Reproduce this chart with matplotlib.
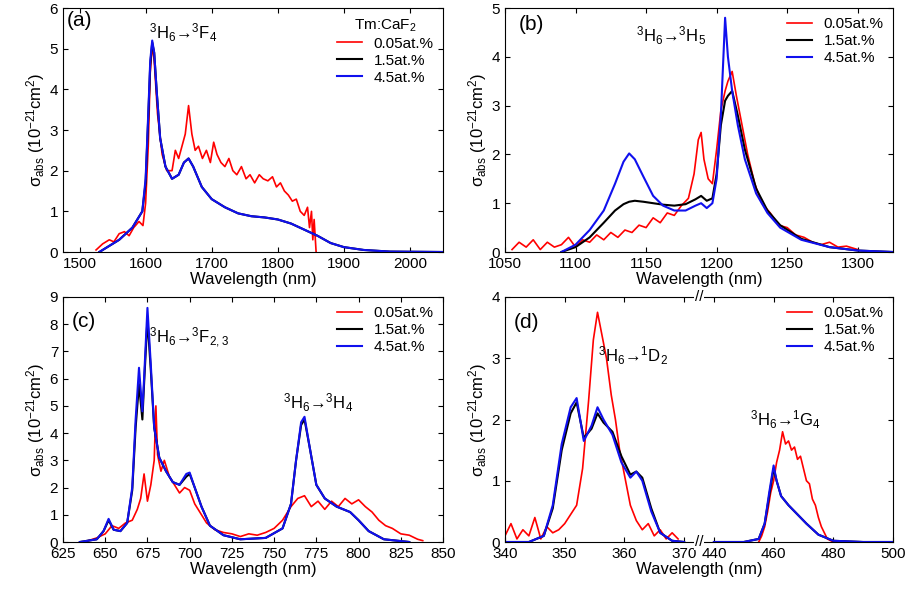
import matplotlib
matplotlib.use('Agg')
import matplotlib.pyplot as plt
import numpy as np

plt.rcParams['font.family'] = ['Liberation Sans', 'DejaVu Sans']
plt.rcParams['mathtext.default'] = 'regular'
plt.rcParams['font.size'] = 12

# ---- panel (a) ----
a_x = [1530, 1560, 1580, 1595, 1600, 1604, 1607, 1610, 1613, 1617, 1622, 1630, 1640, 1650, 1658, 1665, 1672, 1685, 1700, 1720, 1740, 1760, 1780, 1800, 1820, 1840, 1860, 1880, 1900, 1930, 1970, 2050]
a_blue = [0.0, 0.3, 0.6, 1.0, 1.8, 3.4, 4.7, 5.2, 4.9, 3.9, 2.8, 2.1, 1.8, 1.9, 2.2, 2.3, 2.1, 1.6, 1.3, 1.1, 0.95, 0.88, 0.85, 0.8, 0.7, 0.55, 0.4, 0.22, 0.12, 0.05, 0.01, 0.0]
a_black = [0.0, 0.3, 0.6, 1.0, 1.7, 3.3, 4.6, 5.15, 4.9, 3.9, 2.8, 2.1, 1.8, 1.9, 2.2, 2.3, 2.1, 1.6, 1.3, 1.1, 0.95, 0.88, 0.85, 0.8, 0.7, 0.55, 0.4, 0.22, 0.12, 0.05, 0.01, 0.0]
a_rx = [1525, 1535, 1545, 1552, 1560, 1568, 1575, 1582, 1590, 1596, 1600, 1604, 1607, 1610, 1613, 1618, 1625, 1632, 1640, 1645, 1650, 1655, 1660, 1665, 1670, 1675, 1680, 1686, 1692, 1698, 1703, 1708, 1714, 1720, 1726, 1732, 1738, 1745, 1752, 1758, 1765, 1772, 1778, 1785, 1792, 1798, 1804, 1810, 1816, 1822, 1828, 1834, 1840, 1845, 1848, 1851, 1853, 1855, 1858]
a_red = [0.05, 0.2, 0.3, 0.25, 0.45, 0.5, 0.4, 0.6, 0.75, 0.65, 1.2, 2.6, 4.4, 5.1, 4.7, 3.4, 2.4, 2.0, 2.0, 2.5, 2.3, 2.6, 2.9, 3.6, 2.9, 2.5, 2.6, 2.3, 2.5, 2.2, 2.7, 2.4, 2.2, 2.1, 2.3, 2.0, 1.9, 2.1, 1.8, 1.9, 1.7, 1.9, 1.8, 1.75, 1.85, 1.6, 1.7, 1.5, 1.4, 1.25, 1.3, 1.0, 0.9, 1.1, 0.6, 1.0, 0.3, 0.8, 0.0]

# ---- panel (b) ----
b_x = [1090, 1100, 1110, 1120, 1128, 1134, 1138, 1142, 1148, 1155, 1162, 1170, 1178, 1185, 1189, 1193, 1197, 1200, 1203, 1206, 1208, 1211, 1215, 1220, 1228, 1236, 1245, 1260, 1280, 1300, 1325]
b_blue = [0.0, 0.15, 0.45, 0.85, 1.4, 1.85, 2.02, 1.9, 1.55, 1.15, 0.95, 0.85, 0.85, 0.95, 1.0, 0.9, 1.0, 1.5, 2.8, 4.8, 4.0, 3.3, 2.6, 1.9, 1.2, 0.8, 0.5, 0.25, 0.1, 0.03, 0.0]
b_black = [0.0, 0.1, 0.3, 0.6, 0.85, 0.98, 1.03, 1.05, 1.03, 1.0, 0.97, 0.95, 0.98, 1.08, 1.15, 1.05, 1.1, 1.6, 2.6, 3.1, 3.2, 3.3, 2.8, 2.1, 1.3, 0.85, 0.55, 0.27, 0.1, 0.03, 0.0]
b_rx = [1055, 1060, 1065, 1070, 1075, 1080, 1085, 1090, 1095, 1100, 1105, 1110, 1115, 1120, 1125, 1130, 1135, 1140, 1145, 1150, 1155, 1160, 1165, 1170, 1175, 1180, 1184, 1187, 1189, 1191, 1194, 1197, 1200, 1203, 1206, 1208, 1211, 1214, 1218, 1222, 1227, 1232, 1238, 1244, 1250, 1256, 1262, 1268, 1274, 1280, 1286, 1292, 1300]
b_red = [0.05, 0.2, 0.1, 0.25, 0.05, 0.2, 0.1, 0.15, 0.3, 0.1, 0.25, 0.2, 0.35, 0.25, 0.4, 0.3, 0.45, 0.4, 0.55, 0.5, 0.7, 0.6, 0.8, 0.75, 0.95, 1.1, 1.6, 2.3, 2.45, 1.9, 1.5, 1.4, 2.1, 2.9, 3.3, 3.5, 3.7, 3.2, 2.6, 2.0, 1.4, 1.0, 0.8, 0.55, 0.5, 0.35, 0.3, 0.2, 0.15, 0.2, 0.1, 0.12, 0.05]

# ---- panel (c) ----
c_x = [635, 645, 649, 652, 655, 659, 663, 666, 668, 670, 672, 673, 675, 677, 679, 682, 686, 690, 694, 698, 700, 703, 707, 712, 720, 730, 745, 755, 760, 763, 766, 768, 771, 775, 780, 787, 795, 800, 806, 815, 830]
c_blue = [0.0, 0.1, 0.4, 0.85, 0.45, 0.4, 0.7, 2.0, 4.5, 6.4, 4.8, 6.0, 8.6, 6.5, 4.2, 3.1, 2.6, 2.2, 2.1, 2.5, 2.55, 2.0, 1.3, 0.6, 0.25, 0.1, 0.15, 0.5, 1.4, 3.0, 4.4, 4.6, 3.5, 2.1, 1.6, 1.3, 1.1, 0.8, 0.4, 0.1, 0.0]
c_black = [0.0, 0.1, 0.4, 0.8, 0.45, 0.4, 0.7, 1.9, 4.2, 5.8, 4.5, 5.8, 8.2, 6.3, 4.2, 3.1, 2.6, 2.2, 2.1, 2.4, 2.5, 2.0, 1.3, 0.6, 0.25, 0.1, 0.15, 0.5, 1.4, 3.0, 4.3, 4.5, 3.5, 2.1, 1.6, 1.3, 1.1, 0.8, 0.4, 0.1, 0.0]
c_rx = [640, 645, 650, 654, 658, 662, 666, 669, 671, 673, 675, 677, 679, 680, 681, 683, 685, 688, 691, 694, 697, 700, 703, 706, 710, 715, 720, 725, 730, 735, 740, 745, 750, 755, 760, 764, 768, 772, 776, 780, 784, 788, 792, 796, 800, 804, 808, 812, 816, 820, 825, 830, 835, 838]
c_red = [0.05, 0.15, 0.3, 0.6, 0.5, 0.7, 0.8, 1.2, 1.6, 2.5, 1.5, 2.1, 3.0, 5.0, 3.2, 2.6, 3.0, 2.4, 2.1, 1.8, 2.0, 1.9, 1.4, 1.1, 0.7, 0.45, 0.35, 0.3, 0.2, 0.3, 0.25, 0.35, 0.5, 0.8, 1.3, 1.6, 1.7, 1.3, 1.5, 1.2, 1.5, 1.3, 1.6, 1.4, 1.55, 1.3, 1.1, 0.8, 0.6, 0.5, 0.3, 0.25, 0.1, 0.05]

# ---- panel (d), left and right of the axis break ----
d_x1 = [340, 344, 346.5, 348, 349.5, 351, 352, 353.2, 354.5, 355.5, 356.5, 358, 359.5, 361, 362, 363, 364.5, 366, 368, 370]
d_blue1 = [0.0, 0.0, 0.1, 0.6, 1.6, 2.2, 2.35, 1.65, 1.9, 2.2, 2.0, 1.75, 1.3, 1.05, 1.15, 1.0, 0.5, 0.15, 0.02, 0.0]
d_black1 = [0.0, 0.0, 0.1, 0.55, 1.5, 2.1, 2.28, 1.7, 1.85, 2.1, 1.95, 1.8, 1.4, 1.1, 1.15, 1.05, 0.55, 0.15, 0.02, 0.0]
d_rx1 = [340, 341, 342, 343, 344, 345, 346, 347, 348, 349, 350, 351, 352, 353, 354, 354.8, 355.5, 356.2, 357, 357.8, 358.5, 359.2, 360, 361, 362, 363, 364, 365, 366, 367, 368, 369]
d_red1 = [0.1, 0.3, 0.05, 0.2, 0.1, 0.4, 0.05, 0.25, 0.15, 0.2, 0.3, 0.45, 0.6, 1.2, 2.3, 3.3, 3.75, 3.4, 3.0, 2.4, 2.0, 1.5, 1.1, 0.6, 0.35, 0.2, 0.3, 0.1, 0.2, 0.05, 0.15, 0.05]
d_x2 = [440, 450, 455, 457, 458.5, 460, 461, 462.5, 465, 468, 471, 475, 480, 490, 500]
d_blue2 = [0.0, 0.0, 0.05, 0.3, 0.8, 1.25, 1.0, 0.75, 0.6, 0.45, 0.3, 0.12, 0.02, 0.0, 0.0]
d_black2 = [0.0, 0.0, 0.05, 0.3, 0.75, 1.2, 1.0, 0.75, 0.6, 0.45, 0.3, 0.12, 0.02, 0.0, 0.0]
d_rx2 = [455, 456, 457, 458, 459, 460, 461, 462, 463, 464, 465, 466, 467, 468, 469, 470, 471, 472, 473, 474, 475, 476, 477, 478, 480]
d_red2 = [0.0, 0.1, 0.25, 0.5, 0.8, 1.0, 1.3, 1.5, 1.8, 1.6, 1.65, 1.5, 1.55, 1.35, 1.4, 1.2, 1.0, 0.95, 0.7, 0.6, 0.4, 0.25, 0.15, 0.05, 0.0]

labels = ['0.05at.%', '1.5at.%', '4.5at.%']
ylab = r'$\sigma_{abs}$ (10$^{-21}$cm$^2$)'


def brk(x):
    x = np.asarray(x, dtype=float)
    return np.where(x > 400, 375 + (x - 440) / 2, x)


fig = plt.figure(figsize=(9.06, 5.89), dpi=100)
W, H = 906, 589
boxes = [(63, 8, 443, 252), (505, 8, 893, 252), (63, 297, 443, 542), (505, 297, 893, 542)]
axs = [fig.add_axes([l / W, 1 - b / H, (r - l) / W, (b - t) / H]) for l, t, r, b in boxes]

def draw(ax, rx, r, x, k, b):
    ax.plot(rx, r, color='red', lw=1.2, label=labels[0])
    ax.plot(x, k, color='black', lw=1.5, label=labels[1])
    ax.plot(x, b, color='#1010ee', lw=1.5, label=labels[2])

leg_kw = dict(loc='upper right', frameon=False, fontsize=11, handlelength=1.6,
              borderaxespad=0.2, labelspacing=0.2)

ax = axs[0]
draw(ax, a_rx, a_red, a_x, a_black, a_blue)
ax.set_xlim(1475, 2050); ax.set_ylim(0, 6)
ax.set_xticks([1500, 1600, 1700, 1800, 1900, 2000])
ax.legend(title='Tm:CaF$_2$', title_fontsize=11, **leg_kw)
ax.text(1605, 5.25, '$^3$H$_6$→$^3$F$_4$', fontsize=12)
ax.text(1480, 5.55, '(a)', fontsize=15)

ax = axs[1]
draw(ax, b_rx, b_red, b_x, b_black, b_blue)
ax.set_xlim(1050, 1325); ax.set_ylim(0, 5)
ax.set_xticks([1050, 1100, 1150, 1200, 1250, 1300])
ax.legend(**leg_kw)
ax.text(1143, 4.3, '$^3$H$_6$→$^3$H$_5$', fontsize=12)
ax.text(1060, 4.55, '(b)', fontsize=15)

ax = axs[2]
draw(ax, c_rx, c_red, c_x, c_black, c_blue)
ax.set_xlim(625, 850); ax.set_ylim(0, 9)
ax.set_xticks(range(625, 851, 25))
ax.set_yticks(range(0, 10))
ax.legend(**leg_kw)
ax.text(676, 7.3, '$^3$H$_6$→$^3$F$_{2,3}$', fontsize=12)
ax.text(755, 4.9, '$^3$H$_6$→$^3$H$_4$', fontsize=12)
ax.text(630, 7.9, '(c)', fontsize=15)

ax = axs[3]
ax.plot(brk(d_rx1), d_red1, color='red', lw=1.2, label=labels[0])
ax.plot(brk(d_x1), d_black1, color='black', lw=1.5, label=labels[1])
ax.plot(brk(d_x1), d_blue1, color='#1010ee', lw=1.5, label=labels[2])
ax.plot(brk(d_rx2), d_red2, color='red', lw=1.2)
ax.plot(brk(d_x2), d_black2, color='black', lw=1.5)
ax.plot(brk(d_x2), d_blue2, color='#1010ee', lw=1.5)
ax.set_xlim(340, 405); ax.set_ylim(0, 4)
tv = [340, 350, 360, 370, 440, 460, 480, 500]
ax.set_xticks(brk(tv)); ax.set_xticklabels([str(t) for t in tv])
ax.set_yticks(range(0, 5))
for yy in (0, 1):
    ax.text(372.5, yy, '//', ha='center', va='center', fontsize=11, transform=ax.get_xaxis_transform(),
            bbox=dict(fc='white', ec='none', pad=0.5))
ax.legend(**leg_kw)
ax.text(355.5, 2.95, '$^3$H$_6$→$^1$D$_2$', fontsize=12)
ax.text(387, 1.9, '$^3$H$_6$→$^1$G$_4$', fontsize=12, ha='center')
ax.text(341.5, 3.5, '(d)', fontsize=15)

for ax in axs:
    ax.set_xlabel('Wavelength (nm)', fontsize=12, labelpad=1)
    ax.set_ylabel(ylab, fontsize=12, labelpad=2)
    ax.tick_params(direction='in', labelsize=11, top=True, right=True)

fig.savefig('out.png', dpi=100)
